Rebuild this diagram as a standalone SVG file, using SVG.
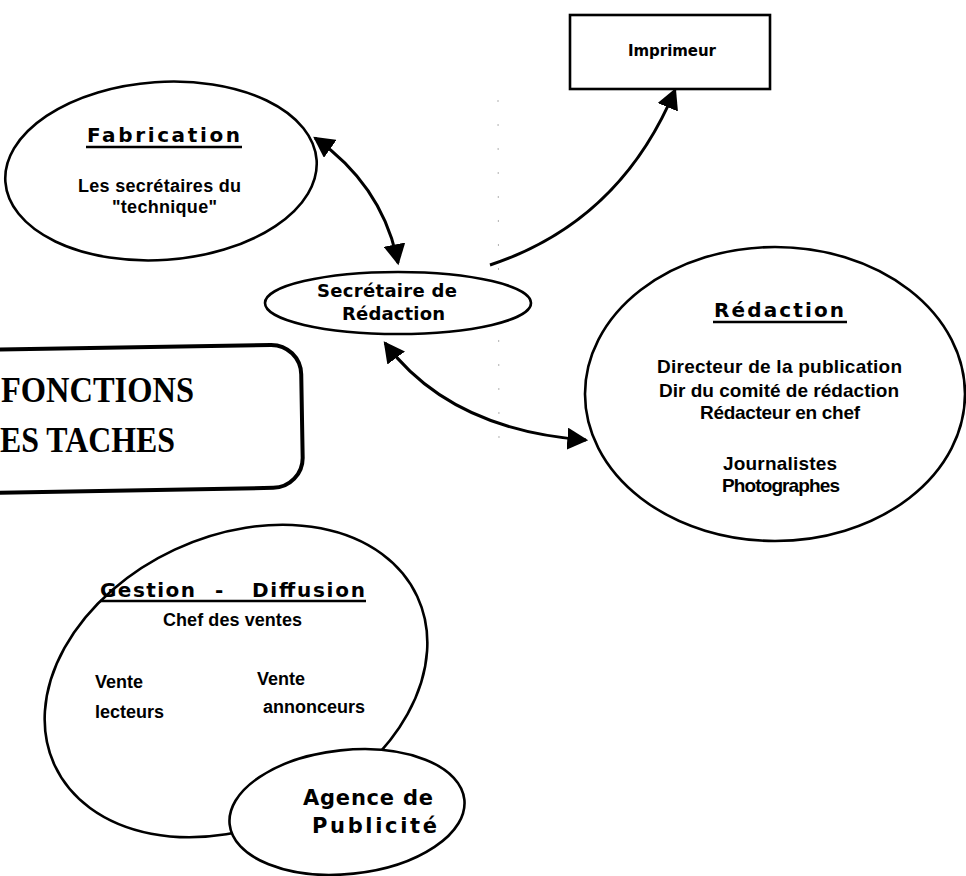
<svg xmlns="http://www.w3.org/2000/svg" width="966" height="876" viewBox="0 0 966 876">
  <defs>
    <style>
      .shape { fill: #fff; stroke: #000; stroke-width: 2.6; }
      .conn { fill: none; stroke: #000; stroke-width: 3; }
      .ul { stroke: #000; stroke-width: 2.6; }
      .w { font-family: "DejaVu Sans", "Verdana", sans-serif; font-weight: bold; fill: #000; }
      .c { font-family: "Liberation Sans", Arial, sans-serif; font-weight: bold; fill: #000; }
      .s { font-family: "Liberation Serif", "Times New Roman", serif; font-weight: bold; fill: #000; }
    </style>
    <marker id="ah" markerUnits="userSpaceOnUse" markerWidth="22" markerHeight="22" viewBox="0 0 20 20" refX="17" refY="10" orient="auto-start-reverse">
      <path d="M0,0 L19,10 L0,20 z" fill="#000"/>
    </marker>
  </defs>
  <rect width="966" height="876" fill="#fff"/>

  <!-- faint scan guide -->
  <line x1="498" y1="100" x2="499" y2="445" stroke="#b0b0b0" stroke-width="1" stroke-dasharray="2 22"/>

  <g id="connectors">
    <path class="conn" d="M315,138 Q383,186 398,263" marker-start="url(#ah)" marker-end="url(#ah)"/>
    <path class="conn" d="M490,265 Q620,222 675,90" marker-end="url(#ah)"/>
    <path class="conn" d="M385,343 Q450,430 586,440" marker-start="url(#ah)" marker-end="url(#ah)"/>
  </g>

  <g id="imprimeur">
    <rect class="shape" x="570" y="15" width="200" height="74"/>
    <text class="w" x="628" y="56" font-size="15" textLength="88">Imprimeur</text>
  </g>

  <g id="fabrication">
    <ellipse class="shape" cx="161" cy="171" rx="156" ry="89" transform="rotate(-4 161 171)"/>
    <text class="w" x="87" y="142" font-size="20" textLength="153">Fabrication</text>
    <line class="ul" x1="86" y1="147" x2="242" y2="147"/>
    <text class="c" x="78" y="192" font-size="18" textLength="163">Les secrétaires du</text>
    <text class="c" x="112" y="213" font-size="18" textLength="105">"technique"</text>
  </g>

  <g id="secretaire">
    <ellipse class="shape" cx="398" cy="303" rx="133" ry="31"/>
    <text class="w" x="317" y="297" font-size="18" textLength="140">Secrétaire de</text>
    <text class="w" x="342" y="320" font-size="18" textLength="103">Rédaction</text>
  </g>

  <g id="titre">
    <rect x="-40" y="347" width="342" height="143" rx="30" ry="30" fill="#fff" stroke="#000" stroke-width="4" transform="rotate(-1 150 420)"/>
    <text class="s" x="1" y="402" font-size="35" textLength="193" lengthAdjust="spacingAndGlyphs">FONCTIONS</text>
    <text class="s" x="0" y="452" font-size="35" textLength="175" lengthAdjust="spacingAndGlyphs">ES TACHES</text>
  </g>

  <g id="redaction">
    <ellipse class="shape" cx="775" cy="394" rx="190" ry="147"/>
    <text class="w" x="714" y="317" font-size="20" textLength="130">Rédaction</text>
    <line class="ul" x1="713" y1="322" x2="847" y2="322"/>
    <text class="c" x="657" y="373" font-size="19" textLength="245">Directeur de la publication</text>
    <text class="c" x="659" y="397" font-size="19" textLength="240">Dir du comité de rédaction</text>
    <text class="c" x="700" y="419" font-size="19" textLength="160">Rédacteur en chef</text>
    <text class="c" x="723" y="470" font-size="19" textLength="114">Journalistes</text>
    <text class="c" x="722" y="492" font-size="19" textLength="118">Photographes</text>
  </g>

  <g id="gestion">
    <ellipse class="shape" cx="236" cy="681" rx="200" ry="145" transform="rotate(-25 236 681)"/>
    <text class="w" y="597" font-size="20"><tspan x="100" textLength="95">Gestion</tspan><tspan x="215">-</tspan><tspan x="252" textLength="113">Diffusion</tspan></text>
    <line class="ul" x1="100" y1="601" x2="366" y2="601"/>
    <text class="c" x="163" y="626" font-size="18" textLength="139">Chef des ventes</text>
    <text class="c" x="95" y="688" font-size="18">Vente</text>
    <text class="c" x="95" y="718" font-size="18">lecteurs</text>
    <text class="c" x="257" y="685" font-size="18">Vente</text>
    <text class="c" x="263" y="713" font-size="18">annonceurs</text>
  </g>

  <g id="agence">
    <ellipse class="shape" cx="347" cy="812" rx="118" ry="62" transform="rotate(-6 347 812)"/>
    <text class="w" x="303" y="805" font-size="21" textLength="130">Agence de</text>
    <text class="w" x="312" y="833" font-size="21" textLength="125">Publicité</text>
  </g>
</svg>
